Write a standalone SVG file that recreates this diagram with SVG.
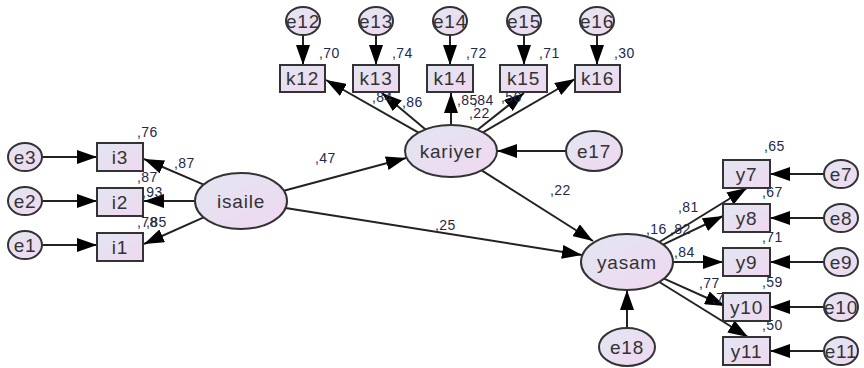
<svg xmlns="http://www.w3.org/2000/svg" width="864" height="368" viewBox="0 0 864 368">
<defs>
<linearGradient id="g" x1="0" y1="0" x2="1" y2="1">
<stop offset="0" stop-color="#e2e6f2"/>
<stop offset="1" stop-color="#f0d8f0"/>
</linearGradient>
<marker id="ah" markerUnits="userSpaceOnUse" markerWidth="20" markerHeight="14" viewBox="0 0 20 14" refX="20" refY="7" orient="auto">
<path d="M0,0 L20,7 L0,14 Z" fill="#000"/>
</marker>
<style>
.n{fill:url(#g);stroke:#333;stroke-width:2}
.t{font-family:"Liberation Sans",Arial,sans-serif;font-size:19px;letter-spacing:0.8px;fill:#333;text-anchor:middle;dominant-baseline:central}
.l{font-family:"Liberation Sans",Arial,sans-serif;font-size:14px;letter-spacing:0.4px;fill:#1e2a4a}
.c line{stroke:#222;stroke-width:2;marker-end:url(#ah)}
</style>
</defs>
<rect width="864" height="368" fill="#fff"/>
<g class="c" id="connectors">
<line x1="303" y1="35" x2="303" y2="65"/>
<line x1="376" y1="35" x2="376" y2="65"/>
<line x1="450" y1="35" x2="450" y2="65"/>
<line x1="524" y1="35" x2="524" y2="65"/>
<line x1="597" y1="35" x2="597" y2="65"/>
<line x1="418.5" y1="132.6" x2="326" y2="80"/>
<line x1="425.6" y1="129.4" x2="382" y2="93"/>
<line x1="451" y1="125" x2="451" y2="93"/>
<line x1="477.6" y1="129.8" x2="524" y2="93"/>
<line x1="483" y1="132.3" x2="575" y2="79"/>
<line x1="42" y1="157" x2="97" y2="157"/>
<line x1="42" y1="201" x2="97" y2="201"/>
<line x1="42" y1="245" x2="97" y2="245"/>
<line x1="203.7" y1="184.7" x2="144" y2="159"/>
<line x1="195" y1="201" x2="144" y2="201"/>
<line x1="203.7" y1="217.3" x2="144" y2="244"/>
<line x1="283.9" y1="190.8" x2="406" y2="158"/>
<line x1="285.5" y1="208" x2="582" y2="255"/>
<line x1="481.7" y1="170.4" x2="593" y2="241"/>
<line x1="566" y1="151" x2="497" y2="151"/>
<line x1="627" y1="328" x2="627" y2="290"/>
<line x1="659.3" y1="242" x2="747" y2="188"/>
<line x1="663" y1="244.7" x2="723" y2="216"/>
<line x1="673" y1="262" x2="723" y2="262"/>
<line x1="664" y1="278.6" x2="725" y2="306"/>
<line x1="659.3" y1="282" x2="748" y2="337"/>
<line x1="824" y1="174" x2="770" y2="174"/>
<line x1="824" y1="218" x2="770" y2="218"/>
<line x1="824" y1="262" x2="770" y2="262"/>
<line x1="824" y1="307" x2="770" y2="307"/>
<line x1="824" y1="351" x2="770" y2="351"/>
</g>
<g id="labels">
<text class="l" x="319" y="58">,70</text>
<text class="l" x="392" y="58">,74</text>
<text class="l" x="466" y="58">,72</text>
<text class="l" x="539" y="58">,71</text>
<text class="l" x="614" y="58">,30</text>
<text class="l" x="372" y="102">,84</text>
<text class="l" x="402" y="107">,86</text>
<text class="l" x="457" y="105">,85</text>
<text class="l" x="473" y="105">,84</text>
<text class="l" x="469" y="118">,22</text>
<text class="l" x="501" y="102">,56</text>
<text class="l" x="137" y="137">,76</text>
<text class="l" x="174" y="168">,87</text>
<text class="l" x="137" y="182">,87</text>
<text class="l" x="142" y="197">,93</text>
<text class="l" x="137" y="227">,78</text>
<text class="l" x="146" y="227">,85</text>
<text class="l" x="315" y="163">,47</text>
<text class="l" x="435" y="230">,25</text>
<text class="l" x="550" y="195">,22</text>
<text class="l" x="764" y="151">,65</text>
<text class="l" x="678" y="212">,81</text>
<text class="l" x="646" y="234">,16</text>
<text class="l" x="670" y="234">,82</text>
<text class="l" x="762" y="197">,67</text>
<text class="l" x="674" y="257">,84</text>
<text class="l" x="762" y="242">,71</text>
<text class="l" x="699" y="288">,77</text>
<text class="l" x="712" y="303">,71</text>
<text class="l" x="762" y="287">,59</text>
<text class="l" x="762" y="330">,50</text>
</g>
<g id="e12"><ellipse class="n" cx="303" cy="21" rx="17" ry="14"/><text class="t" x="303" y="21">e12</text></g>
<g id="e13"><ellipse class="n" cx="376" cy="21" rx="17" ry="14"/><text class="t" x="376" y="21">e13</text></g>
<g id="e14"><ellipse class="n" cx="450" cy="21" rx="17" ry="14"/><text class="t" x="450" y="21">e14</text></g>
<g id="e15"><ellipse class="n" cx="524" cy="21" rx="17" ry="14"/><text class="t" x="524" y="21">e15</text></g>
<g id="e16"><ellipse class="n" cx="597" cy="21" rx="17" ry="14"/><text class="t" x="597" y="21">e16</text></g>
<g id="k12"><rect class="n" x="280" y="65" width="45" height="27"/><text class="t" x="302.5" y="78.5">k12</text></g>
<g id="k13"><rect class="n" x="353" y="65" width="46" height="27"/><text class="t" x="376" y="78.5">k13</text></g>
<g id="k14"><rect class="n" x="427" y="65" width="46" height="27"/><text class="t" x="450" y="78.5">k14</text></g>
<g id="k15"><rect class="n" x="500" y="65" width="47" height="27"/><text class="t" x="523.5" y="78.5">k15</text></g>
<g id="k16"><rect class="n" x="575" y="65" width="45" height="27"/><text class="t" x="597.5" y="78.5">k16</text></g>
<g id="kariyer"><ellipse class="n" cx="451" cy="151" rx="46" ry="26"/><text class="t" x="451" y="151">kariyer</text></g>
<g id="e17"><ellipse class="n" cx="594" cy="151" rx="28" ry="20"/><text class="t" x="594" y="151">e17</text></g>
<g id="e3"><ellipse class="n" cx="25" cy="157" rx="17" ry="14"/><text class="t" x="25" y="157">e3</text></g>
<g id="e2"><ellipse class="n" cx="25" cy="201" rx="17" ry="14"/><text class="t" x="25" y="201">e2</text></g>
<g id="e1"><ellipse class="n" cx="25" cy="245" rx="17" ry="14"/><text class="t" x="25" y="245">e1</text></g>
<g id="i3"><rect class="n" x="97" y="143" width="46" height="28"/><text class="t" x="120" y="157">i3</text></g>
<g id="i2"><rect class="n" x="97" y="188" width="46" height="28"/><text class="t" x="120" y="202">i2</text></g>
<g id="i1"><rect class="n" x="97" y="233" width="46" height="28"/><text class="t" x="120" y="247">i1</text></g>
<g id="isaile"><ellipse class="n" cx="241" cy="201" rx="46" ry="28"/><text class="t" x="241" y="201">isaile</text></g>
<g id="yasam"><ellipse class="n" cx="627" cy="262" rx="46" ry="28"/><text class="t" x="627" y="262">yasam</text></g>
<g id="e18"><ellipse class="n" cx="627" cy="347" rx="28" ry="19"/><text class="t" x="627" y="347">e18</text></g>
<g id="y7"><rect class="n" x="723" y="160" width="47" height="28"/><text class="t" x="746.5" y="174">y7</text></g>
<g id="y8"><rect class="n" x="723" y="204" width="47" height="28"/><text class="t" x="746.5" y="218">y8</text></g>
<g id="y9"><rect class="n" x="723" y="248" width="47" height="28"/><text class="t" x="746.5" y="262">y9</text></g>
<g id="y10"><rect class="n" x="723" y="293" width="47" height="28"/><text class="t" x="746.5" y="307">y10</text></g>
<g id="y11"><rect class="n" x="723" y="337" width="47" height="28"/><text class="t" x="746.5" y="351">y11</text></g>
<g id="e7"><ellipse class="n" cx="841" cy="174" rx="17" ry="14"/><text class="t" x="841" y="174">e7</text></g>
<g id="e8"><ellipse class="n" cx="841" cy="218" rx="17" ry="14"/><text class="t" x="841" y="218">e8</text></g>
<g id="e9"><ellipse class="n" cx="841" cy="262" rx="17" ry="14"/><text class="t" x="841" y="262">e9</text></g>
<g id="e10"><ellipse class="n" cx="841" cy="307" rx="17" ry="14"/><text class="t" x="841" y="307">e10</text></g>
<g id="e11"><ellipse class="n" cx="841" cy="351" rx="17" ry="14"/><text class="t" x="841" y="351">e11</text></g>
</svg>
